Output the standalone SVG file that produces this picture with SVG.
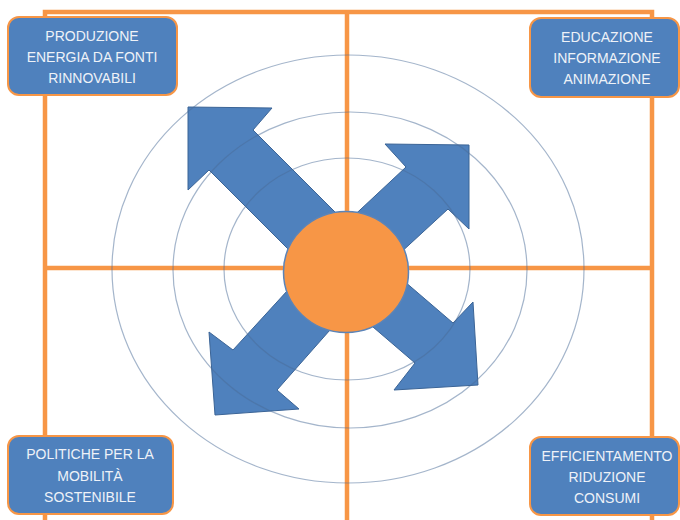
<svg xmlns="http://www.w3.org/2000/svg" width="680" height="520" viewBox="0 0 680 520">
<style>
.grid{stroke:#f79646;stroke-width:4.5;fill:none}
.ring{fill:none;stroke:#4a6c98;stroke-opacity:0.5;stroke-width:1.2}
.arrow{fill:#4f81bd;stroke:#3b6496;stroke-width:1}
.box{fill:#4f81bd;stroke:#f79646;stroke-width:2}
.lbl{font-family:"Liberation Sans",Arial,sans-serif;font-size:14px;fill:#eef2f8;text-anchor:middle}
</style>
<rect width="680" height="520" fill="#ffffff"/>
<g id="frame">
<path class="grid" d="M45,520 V12 H652 V520 M347,12 V520 M45,268 H652"/>
</g>
<g id="connectors">
<polygon id="arrow-nw" class="arrow" points="188,107 272,108 253,130 360,237 320,281 209,170 188,190"/>
<polygon id="arrow-ne" class="arrow" points="469,145 385,144 406,167 330,238 372,279 448,209 469,229"/>
<polygon id="arrow-se" class="arrow" points="478,385 473,302 453,323 362,245 324,285 415,363 394,390"/>
<polygon id="arrow-sw" class="arrow" points="215,415 209,332 233,350 320,255 360,296 277,390 299,409"/>
</g>
<g id="rings">
<ellipse class="ring" cx="348" cy="269" rx="236" ry="214"/>
<ellipse class="ring" cx="350" cy="270" rx="177" ry="158"/>
<ellipse class="ring" cx="347" cy="269" rx="123" ry="111"/>
</g>
<g id="center">
<ellipse cx="346" cy="272" rx="62.5" ry="60.5" fill="#f79646" stroke="#5b84b8" stroke-width="1.5"/>
</g>
<g id="node-produzione">
<rect class="box" x="8" y="17" width="169" height="78" rx="11"/>
<text class="lbl" x="92" y="41">PRODUZIONE</text>
<text class="lbl" x="92" y="62">ENERGIA DA FONTI</text>
<text class="lbl" x="92" y="83">RINNOVABILI</text>
</g>
<g id="node-educazione">
<rect class="box" x="530" y="18" width="149" height="79" rx="11"/>
<text class="lbl" x="607" y="42">EDUCAZIONE</text>
<text class="lbl" x="607" y="63">INFORMAZIONE</text>
<text class="lbl" x="607" y="84">ANIMAZIONE</text>
</g>
<g id="node-politiche">
<rect class="box" x="8" y="436" width="165" height="78" rx="11"/>
<text class="lbl" x="90" y="459">POLITICHE PER LA</text>
<text class="lbl" x="90" y="481">MOBILITÀ</text>
<text class="lbl" x="90" y="502">SOSTENIBILE</text>
</g>
<g id="node-efficientamento">
<rect class="box" x="530" y="437" width="149" height="78" rx="11"/>
<text class="lbl" x="607" y="461">EFFICIENTAMENTO</text>
<text class="lbl" x="607" y="482">RIDUZIONE</text>
<text class="lbl" x="607" y="503">CONSUMI</text>
</g>
</svg>
